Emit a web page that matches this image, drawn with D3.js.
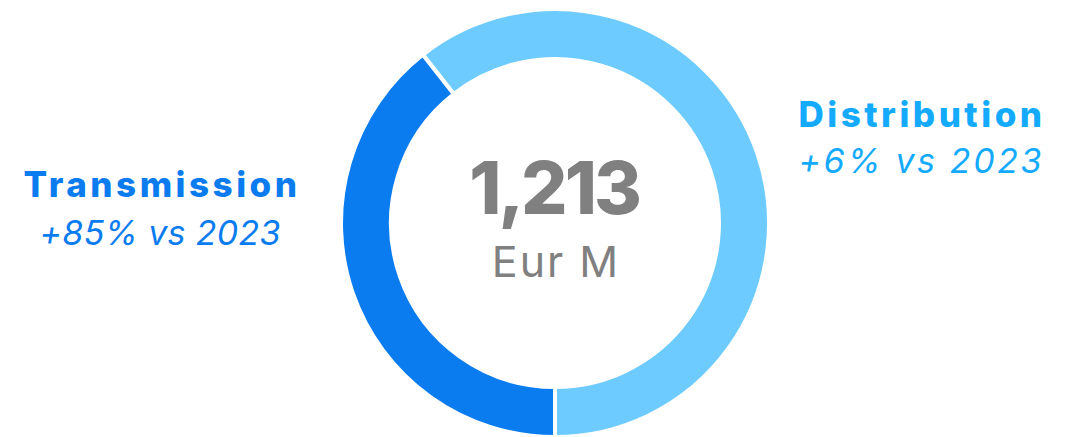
<!DOCTYPE html>
<html>
<head>
<meta charset="utf-8">
<script src="https://cdn.jsdelivr.net/npm/d3@7.9.0/dist/d3.min.js"></script>
<style>
  html, body { margin: 0; padding: 0; background: #fff; }
  svg { display: block; font-family: Inter, "Noto Sans", sans-serif; }
</style>
</head>
<body>
<svg id="chart" width="1074" height="437"></svg>
<script>
const segments = ['Distribution', 'Transmission'];
const values = [735, 478];
const changes = ['+6% vs 2023', '+85% vs 2023'];
const totalLabel = '1,213';
const unitLabel = 'Eur M';

const ringColors = ['#6ecbff', '#0a7cf0'];
const textColors = ['#14aaff', '#0a7cf0'];

const width = 1074, height = 437;
const cx = 555, cy = 223;
const outerR = 214, innerR = 164;

const svg = d3.select('#chart');
const g = svg.append('g').attr('transform', `translate(${cx},${cy})`);

const total = d3.sum(values);
// Distribution ends at the bottom of the ring
const start = Math.PI - 2 * Math.PI * values[0] / total;

const pie = d3.pie().sort(null).value(d => d)
    .startAngle(start).endAngle(start + 2 * Math.PI);
const arc = d3.arc().innerRadius(innerR).outerRadius(outerR);

g.selectAll('path')
    .data(pie(values))
    .join('path')
    .attr('d', arc)
    .attr('fill', (d, i) => ringColors[i])
    .attr('stroke', '#fff')
    .attr('stroke-width', 4);

// center labels
g.append('text')
    .attr('text-anchor', 'middle')
    .attr('x', -1)
    .attr('y', -9)
    .attr('font-size', 73)
    .attr('font-weight', 800)
    .attr('letter-spacing', -3)
    .attr('fill', '#808080')
    .text(totalLabel);

g.append('text')
    .attr('text-anchor', 'middle')
    .attr('x', 1)
    .attr('y', 54)
    .attr('font-size', 43)
    .attr('letter-spacing', 2)
    .attr('fill', '#808080')
    .text(unitLabel);

// side labels
const labelPos = [
    { x: 920, y1: 127, y2: 173, sub: 2.6 },
    { x: 160, y1: 197, y2: 245, sub: 0.3 }
];

segments.forEach((name, i) => {
    const p = labelPos[i];
    svg.append('text')
        .attr('x', p.x + 2).attr('y', p.y1)
        .attr('text-anchor', 'middle')
        .attr('font-size', 35)
        .attr('font-weight', 800)
        .attr('letter-spacing', 3.5)
        .attr('fill', textColors[i])
        .text(name);
    svg.append('text')
        .attr('x', p.x + p.sub / 2).attr('y', p.y2)
        .attr('text-anchor', 'middle')
        .attr('font-size', 34)
        .attr('font-style', 'italic')
        .attr('letter-spacing', p.sub)
        .attr('fill', textColors[i])
        .text(changes[i]);
});
</script>
</body>
</html>
